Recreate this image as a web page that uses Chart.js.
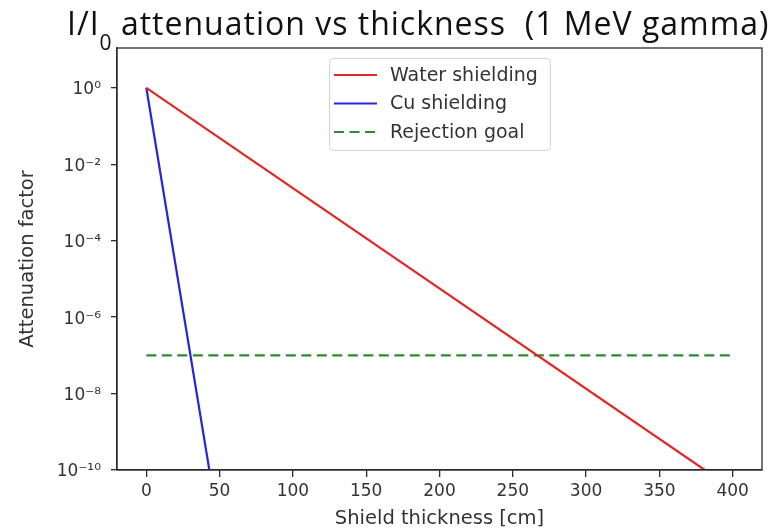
<!DOCTYPE html>
<html>
<head>
<meta charset="utf-8">
<script src="https://cdn.jsdelivr.net/npm/chart.js@4.4.0/dist/chart.umd.min.js"></script>
<style>
  html, body { margin: 0; padding: 0; background: #fff; }
</style>
</head>
<body>
<canvas id="chart" width="779" height="531"></canvas>
<script>
// shield thickness [cm] vs I/I0, straight lines on a log axis so the end points are enough
var waterThickness = [0, 381];
var waterAtten = [1, 1e-10];
var cuThickness = [0, 43];
var cuAtten = [1, 1e-10];
var goalThickness = [0, 400];
var goalAtten = [1e-7, 1e-7];

var seriesNames = ['Water shielding', 'Cu shielding', 'Rejection goal'];

var xTicks = [0, 50, 100, 150, 200, 250, 300, 350, 400];
var yTicks = [1, 1e-2, 1e-4, 1e-6, 1e-8, 1e-10];
var yTickLabels = ['10⁰', '10⁻²', '10⁻⁴', '10⁻⁶', '10⁻⁸', '10⁻¹⁰'];

var titleMain = 'I/I';
var titleSub = '0';
var titleRest = ' attenuation vs thickness  (1 MeV gamma)';

function toPoints(xs, ys) {
    return xs.map(function(x, i) { return { x: x, y: ys[i] }; });
}

var axisColor = '#2b2b2b';
var textColor = '#333';

// title with a real subscript, drawn above the plot box
var titlePlugin = {
    id: 'subTitle',
    afterDraw: function(chart) {
        var c = chart.ctx;
        c.save();
        c.fillStyle = '#111';
        c.textBaseline = 'alphabetic';
        c.letterSpacing = '1px';
        c.font = '32px "Open Sans"';
        var x = 67;
        c.fillText(titleMain, x, 35);
        x += c.measureText(titleMain).width;
        c.font = '21px "Open Sans"';
        c.fillText(titleSub, x, 50);
        x += c.measureText(titleSub).width - 1;
        c.font = '32px "Open Sans"';
        c.fillText(titleRest, x, 35);
        c.restore();
    }
};

// full box around the axes plus a framed legend inside it
var framePlugin = {
    id: 'frameLegend',
    afterDatasetsDraw: function(chart) {
        var c = chart.ctx, a = chart.chartArea;
        c.save();
        c.strokeStyle = axisColor;
        c.lineWidth = 1.3;
        c.strokeRect(a.left, a.top, a.right - a.left, a.bottom - a.top);

        var w = 221, h = 92;
        var lx = Math.round((a.left + a.right) / 2 - w / 2);
        var ly = a.top + 10;
        c.beginPath();
        c.roundRect(lx + 0.5, ly + 0.5, w, h, 4);
        c.fillStyle = 'rgba(255,255,255,0.85)';
        c.fill();
        c.strokeStyle = '#d4d4d4';
        c.lineWidth = 1;
        c.stroke();

        c.font = '19px "DejaVu Sans"';
        c.textBaseline = 'middle';
        chart.data.datasets.forEach(function(ds, i) {
            var y = ly + 17 + i * 28.5;
            c.beginPath();
            c.strokeStyle = ds.borderColor;
            c.lineWidth = 2.2;
            c.setLineDash(ds.borderDash || []);
            c.moveTo(lx + 5, y);
            c.lineTo(lx + 48, y);
            c.stroke();
            c.setLineDash([]);
            c.fillStyle = textColor;
            c.fillText(ds.label, lx + 61, y + 1);
        });
        c.restore();
    }
};

var ctx = document.getElementById('chart').getContext('2d');
new Chart(ctx, {
    type: 'line',
    data: {
        datasets: [{
            label: seriesNames[0],
            data: toPoints(waterThickness, waterAtten),
            borderColor: '#e02828',
            borderWidth: 2.2,
            pointRadius: 0,
            tension: 0
        }, {
            label: seriesNames[1],
            data: toPoints(cuThickness, cuAtten),
            borderColor: '#2626d6',
            borderWidth: 2.2,
            pointRadius: 0,
            tension: 0
        }, {
            label: seriesNames[2],
            data: toPoints(goalThickness, goalAtten),
            borderColor: '#2f8a2f',
            borderWidth: 2.4,
            borderDash: [10, 5.5],
            pointRadius: 0,
            tension: 0
        }]
    },
    options: {
        responsive: false,
        animation: false,
        layout: { padding: { top: 48, right: 17, left: 0, bottom: 0 } },
        plugins: {
            legend: { display: false },
            title: { display: false },
            tooltip: { enabled: false }
        },
        scales: {
            x: {
                type: 'linear',
                min: -20,
                max: 420,
                afterBuildTicks: function(scale) {
                    scale.ticks = xTicks.map(function(v) { return { value: v }; });
                },
                afterFit: function(scale) { scale.height = 61; },
                grid: { drawOnChartArea: false, drawTicks: true, tickLength: 7, color: axisColor, lineWidth: 1.3 },
                border: { color: axisColor, width: 1.3 },
                ticks: {
                    color: textColor,
                    padding: 4,
                    maxRotation: 0,
                    font: { family: 'DejaVu Sans', size: 17 }
                },
                title: {
                    display: true,
                    text: 'Shield thickness [cm]',
                    color: textColor,
                    padding: { top: 0, bottom: 0 },
                    font: { family: 'DejaVu Sans', size: 19.5 }
                }
            },
            y: {
                type: 'logarithmic',
                min: 1e-10,
                max: 11,
                afterBuildTicks: function(scale) {
                    scale.ticks = yTicks.map(function(v) { return { value: v }; });
                },
                afterFit: function(scale) { scale.width = 117; },
                grid: { drawOnChartArea: false, drawTicks: true, tickLength: 6, color: axisColor, lineWidth: 1.3 },
                border: { color: axisColor, width: 1.3 },
                ticks: {
                    color: textColor,
                    padding: 10,
                    labelOffset: 2,
                    font: { family: 'DejaVu Sans', size: 17 },
                    callback: function(value) {
                        return yTickLabels[yTicks.indexOf(value)];
                    }
                },
                title: {
                    display: true,
                    text: 'Attenuation factor',
                    color: textColor,
                    padding: { top: 16, bottom: 0 },
                    font: { family: 'DejaVu Sans', size: 19.5 }
                }
            }
        }
    },
    plugins: [titlePlugin, framePlugin]
});
</script>
</body>
</html>
